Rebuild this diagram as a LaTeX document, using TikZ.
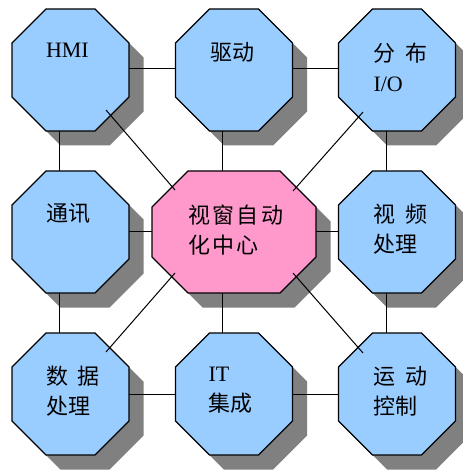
\documentclass[tikz,border=0pt]{standalone}
\usepackage{fontspec}
\setmainfont{Liberation Serif}
\newfontfamily\cjk{Noto Sans CJK SC}
\definecolor{octblue}{HTML}{99CCFF}
\definecolor{octpink}{HTML}{FF99CC}
\definecolor{shadowgray}{HTML}{808080}
\newcommand\octa[4]{([xshift=#2+(#3),yshift=#4]#1.north west) -- ([xshift=-#2+(#3),yshift=#4]#1.north east) -- ([xshift=#3,yshift=-#2+(#4)]#1.north east) -- ([xshift=#3,yshift=#2+(#4)]#1.south east) -- ([xshift=-#2+(#3),yshift=#4]#1.south east) -- ([xshift=#2+(#3),yshift=#4]#1.south west) -- ([xshift=#3,yshift=#2+(#4)]#1.south west) -- ([xshift=#3,yshift=-#2+(#4)]#1.north west) -- cycle}
\tikzset{
  box/.style={rectangle, draw=none, inner sep=0pt, outer sep=0pt, minimum width=117pt, minimum height=122pt},
  bigbox/.style={box, minimum width=164pt},
  lbl/.style={anchor=north west, inner sep=0pt, outer sep=0pt, align=left, font=\fontsize{22}{30}\cjk\selectfont, text=black},
  conn/.style={draw=black, line width=1pt},
  shade/.style={fill=shadowgray},
  octline/.style={draw=black, line width=1.3pt, line join=miter}
}
\begin{document}
\begin{tikzpicture}[x=1pt,y=-1pt]
\useasboundingbox (0,0) rectangle (462,470);
% geometry nodes
\node[box] (hmi) at (70.5,70) {};
\node[box] (qd) at (234,70) {};
\node[box] (fb) at (397,70) {};
\node[box] (tx) at (70.5,232) {};
\node[bigbox] (ctr) at (234,232) {};
\node[box] (sp) at (397,232) {};
\node[box] (sj) at (70.5,394) {};
\node[box] (it) at (234,394) {};
\node[box] (yd) at (397,394) {};
% shadows
\foreach \n in {hmi,qd,fb,tx,sp,sj,it,yd}{
  \fill[shade] \octa{\n}{34pt}{14.5pt}{-14.5pt};
}
\fill[shade] \octa{ctr}{36pt}{14.5pt}{-14.5pt};
% orthogonal connectors
\draw[conn] ([yshift=1pt]hmi.east) -- ([yshift=1pt]qd.west);
\draw[conn] ([yshift=1pt]qd.east) -- ([yshift=1pt]fb.west);
\draw[conn] ([yshift=1pt]tx.east) -- ([yshift=1pt]ctr.west);
\draw[conn] ([yshift=1pt]ctr.east) -- ([yshift=1pt]sp.west);
\draw[conn] (sj.east) -- (it.west);
\draw[conn] (it.east) -- (yd.west);
\draw[conn] ([xshift=-11.5pt]hmi.south) -- ([xshift=-11.5pt]tx.north);
\draw[conn] ([xshift=-11.5pt]tx.south) -- ([xshift=-11.5pt]sj.north);
\draw[conn] ([xshift=-12pt]qd.south) -- ([xshift=-12pt]ctr.north);
\draw[conn] ([xshift=-12pt]ctr.south) -- ([xshift=-12pt]it.north);
\draw[conn] ([xshift=-10.5pt]fb.south) -- ([xshift=-10.5pt]sp.north);
\draw[conn] ([xshift=-10.5pt]sp.south) -- ([xshift=-10.5pt]yd.north);
% octagons
\foreach \n in {hmi,qd,fb,tx,sp,sj,it,yd}{
  \filldraw[fill=octblue, octline] \octa{\n}{34pt}{0pt}{0pt};
}
\filldraw[fill=octpink, octline] \octa{ctr}{36pt}{0pt}{0pt};
% diagonal connectors
\draw[conn] ([xshift=35.5pt,yshift=-40pt]hmi.center) -- ([xshift=-59pt,yshift=42pt]ctr.center);
\draw[conn] ([xshift=-34pt,yshift=-42pt]fb.center) -- ([xshift=59pt,yshift=41pt]ctr.center);
\draw[conn] ([xshift=35.5pt,yshift=42pt]sj.center) -- ([xshift=-59pt,yshift=-41pt]ctr.center);
\draw[conn] ([xshift=-34pt,yshift=41pt]yd.center) -- ([xshift=59pt,yshift=-41pt]ctr.center);
% labels
\node[lbl] (hmi-t) at ([xshift=34pt,yshift=-34pt]hmi.north west) {\rmfamily HMI};
\node[lbl] (qd-t) at ([xshift=35pt,yshift=-33pt]qd.north west) {驱动};
\node[lbl] (fb-t) at ([xshift=35pt,yshift=-34pt]fb.north west) {分\kern10pt 布\\\rmfamily I/O};
\node[lbl] (tx-t) at ([xshift=34pt,yshift=-32pt]tx.north west) {通讯};
\node[lbl] (ctr-t) at ([xshift=36pt,yshift=-34pt]ctr.north west) {视\kern2.5pt 窗\kern2.5pt 自\kern2.5pt 动\\化\kern2.5pt 中\kern2.5pt 心};
\node[lbl] (sp-t) at ([xshift=35pt,yshift=-33pt]sp.north west) {视\kern10pt 频\\处理};
\node[lbl] (sj-t) at ([xshift=34pt,yshift=-33pt]sj.north west) {数\kern10pt 据\\处理};
\node[lbl] (it-t) at ([xshift=33pt,yshift=-34pt]it.north west) {\rmfamily IT\\集成};
\node[lbl] (yd-t) at ([xshift=35pt,yshift=-33pt]yd.north west) {运\kern10pt 动\\控制};
\end{tikzpicture}
\end{document}
